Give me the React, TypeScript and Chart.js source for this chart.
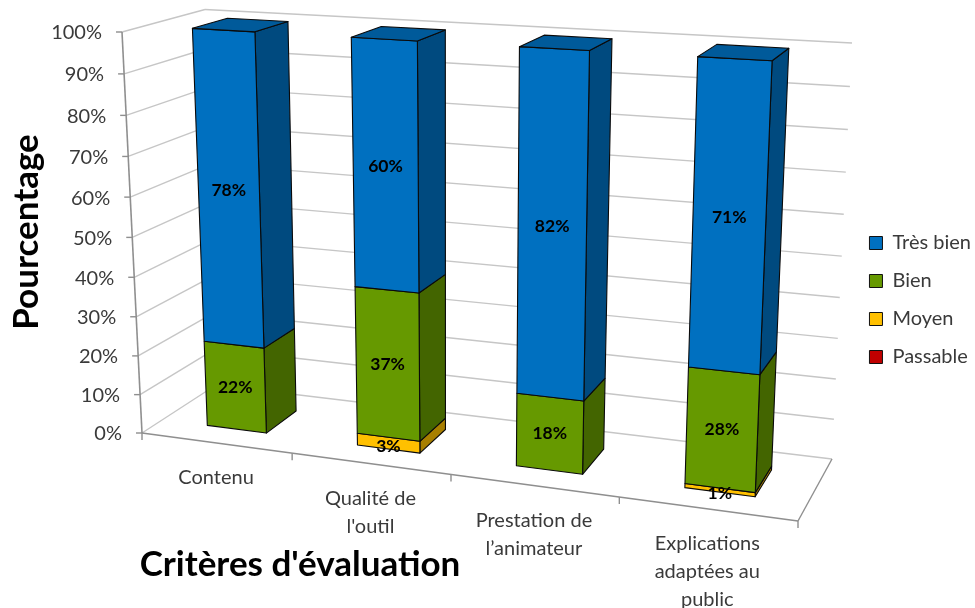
import React, { useEffect, useRef } from "react";
import { Chart, registerables } from "chart.js";

Chart.register(...registerables);

const categories = [["Contenu"], ["Qualité de", "l'outil"], ["Prestation de", "l’animateur"], ["Explications", "adaptées au", "public"]];
const passable = [0, 0, 0, 0];
const moyen = [0, 3, 0, 1];
const bien = [22, 37, 18, 28];
const tresBien = [78, 60, 82, 71];
const yTitle = "Pourcentage";
const xTitle = "Critères d'évaluation";

const FONT = "Lato, 'Open Sans', sans-serif";
const TEXT = "#3a3a3a";
const GRID = "#c6c6c6";
const AXIS = "#8f8f8f";

// 3D box of the plot: screen position of its eight corners [front/back][top/bottom][left/right]
type P = [number, number];
const FTL: P = [122, 32], FTR: P = [818, 72], FBL: P = [142, 433], FBR: P = [798, 521];
const BTL: P = [205, 9.5], BTR: P = [852, 43], BBL: P = [216, 385], BBR: P = [832, 459];
const PERSP_U = 1.123, PERSP_V = 1.05;
const W_FRONT = 0.28, W_BACK = 0.72;
const BAR_SHIFT = 0.002;

const persp = (a: number, r: number) => a / (a + (1 - a) * r);
const lerp = (a: P, b: P, t: number): P => [a[0] + (b[0] - a[0]) * t, a[1] + (b[1] - a[1]) * t];

function project(u: number, v: number, w: number): P {
  const tu = persp(u, PERSP_U), tv = persp(v, PERSP_V);
  const front = lerp(lerp(FBL, FBR, tu), lerp(FTL, FTR, tu), tv);
  const back = lerp(lerp(BBL, BBR, tu), lerp(BTL, BTR, tu), tv);
  return lerp(front, back, w);
}

function shade(hex: string, f: number) {
  const n = parseInt(hex.slice(1), 16);
  const c = [(n >> 16) & 255, (n >> 8) & 255, n & 255].map((x) => Math.round(x * f));
  return `rgb(${c[0]},${c[1]},${c[2]})`;
}

function line(ctx: CanvasRenderingContext2D, a: P, b: P, color: string, width: number) {
  ctx.strokeStyle = color;
  ctx.lineWidth = width;
  ctx.beginPath();
  ctx.moveTo(a[0], a[1]);
  ctx.lineTo(b[0], b[1]);
  ctx.stroke();
}

function poly(ctx: CanvasRenderingContext2D, pts: P[], fill: string) {
  ctx.fillStyle = fill;
  ctx.strokeStyle = "#0a0a0a";
  ctx.lineWidth = 1.1;
  ctx.lineJoin = "round";
  ctx.beginPath();
  pts.forEach((p, i) => (i ? ctx.lineTo(p[0], p[1]) : ctx.moveTo(p[0], p[1])));
  ctx.closePath();
  ctx.fill();
  ctx.stroke();
}

const box3d = {
  id: "box3d",
  beforeDatasetsDraw(chart: any) {
    const ctx: CanvasRenderingContext2D = chart.ctx;
    const area = chart.chartArea;
    const normU = (x: number) => (x - area.left) / area.width;
    const normV = (y: number) => (area.bottom - y) / area.height;
    const yScale = chart.scales.y;
    const xScale = chart.scales.x;
    ctx.save();

    // walls
    const ticks = yScale.ticks as { value: number }[];
    ticks.forEach((t) => {
      const v = normV(yScale.getPixelForValue(t.value));
      line(ctx, project(0, v, 0), project(0, v, 1), GRID, 1.4);
      line(ctx, project(0, v, 1), project(1, v, 1), GRID, 1.4);
    });
    // floor
    line(ctx, project(1, 0, 1), project(1, 0, 0), AXIS, 1.4);
    line(ctx, project(0, 0, 0), project(1, 0, 0), AXIS, 1.6);
    line(ctx, project(0, 0, 0), project(0, 1, 0), AXIS, 1.6);
    // axis tick marks
    ticks.forEach((t) => {
      const p = project(0, normV(yScale.getPixelForValue(t.value)), 0);
      line(ctx, [p[0] - 6, p[1]], p, AXIS, 1.4);
    });
    categories.concat([[]]).forEach((_, i) => {
      const p = project(i / categories.length, 0, 0);
      line(ctx, p, [p[0], p[1] + 7], AXIS, 1.4);
    });

    // bars, left to right, bottom to top
    const n = chart.data.datasets.length;
    categories.forEach((_, i) => {
      let topmost = -1;
      for (let d = 0; d < n; d++) if (chart.data.datasets[d].data[i] > 0) topmost = d;
      for (let d = 0; d < n; d++) {
        const ds = chart.data.datasets[d];
        if (!(ds.data[i] > 0)) continue;
        const el = chart.getDatasetMeta(d).data[i] as any;
        const u0 = normU(el.x - el.width / 2) + BAR_SHIFT, u1 = normU(el.x + el.width / 2) + BAR_SHIFT;
        const v0 = normV(el.base), v1 = normV(el.y);
        const col = ds.backgroundColor as string;
        poly(ctx, [project(u1, v0, W_FRONT), project(u1, v0, W_BACK), project(u1, v1, W_BACK), project(u1, v1, W_FRONT)], shade(col, 0.66));
        poly(ctx, [project(u0, v0, W_FRONT), project(u1, v0, W_FRONT), project(u1, v1, W_FRONT), project(u0, v1, W_FRONT)], col);
        if (d === topmost) {
          poly(ctx, [project(u0, v1, W_FRONT), project(u1, v1, W_FRONT), project(u1, v1, W_BACK), project(u0, v1, W_BACK)], shade(col, 0.8));
        }
      }
    });

    // data labels
    ctx.textAlign = "center";
    ctx.textBaseline = "middle";
    ctx.fillStyle = "#000";
    ctx.font = `bold 17.5px ${FONT}`;
    for (let d = 0; d < n; d++) {
      const ds = chart.data.datasets[d];
      categories.forEach((_, i) => {
        if (!(ds.data[i] > 0)) return;
        const el = chart.getDatasetMeta(d).data[i] as any;
        const p = project(normU(el.x) + BAR_SHIFT, (normV(el.base) + normV(el.y)) / 2, W_FRONT);
        ctx.fillText(`${ds.data[i]}%`, p[0], p[1] + (ds.data[i] < 5 ? 3 : 0));
      });
    }

    // y tick labels
    ctx.fillStyle = TEXT;
    ctx.font = `20px ${FONT}`;
    ctx.textAlign = "right";
    ticks.forEach((t) => {
      const p = project(0, normV(yScale.getPixelForValue(t.value)), 0);
      ctx.fillText(`${t.value}%`, p[0] - 20, p[1] + 1);
    });

    // category labels
    ctx.font = `20px ${FONT}`;
    ctx.textAlign = "center";
    categories.forEach((_, i) => {
      const p = project(normU(xScale.getPixelForValue(i)), 0, 0);
      categories[i].forEach((s, k) => ctx.fillText(s, p[0], p[1] + 35 + k * 28));
    });

    // axis titles
    ctx.fillStyle = "#000";
    ctx.font = `bold 35px ${FONT}`;
    ctx.fillText(xTitle, 300, 565);
    ctx.translate(27, 232);
    ctx.rotate(-Math.PI / 2);
    ctx.fillText(yTitle, 0, 0);
    ctx.restore();
    return false;
  },
};

export default function App() {
  const ref = useRef<HTMLCanvasElement>(null);
  useEffect(() => {
    const chart = new Chart(ref.current!, {
      type: "bar",
      plugins: [box3d],
      data: {
        labels: categories,
        datasets: [
          { label: "Passable", data: passable, backgroundColor: "#C00000", borderColor: "#111", borderWidth: 1 },
          { label: "Moyen", data: moyen, backgroundColor: "#FFC000", borderColor: "#111", borderWidth: 1 },
          { label: "Bien", data: bien, backgroundColor: "#669900", borderColor: "#111", borderWidth: 1 },
          { label: "Très bien", data: tresBien, backgroundColor: "#0070C0", borderColor: "#111", borderWidth: 1 },
        ],
      },
      options: {
        responsive: false,
        animation: false,
        layout: { padding: { top: 32, bottom: 40, left: 0, right: -6 } },
        datasets: { bar: { barPercentage: 0.4, categoryPercentage: 1 } },
        scales: {
          x: { stacked: true, display: false },
          y: { stacked: true, display: false, min: 0, max: 100, ticks: { stepSize: 10 } },
        },
        plugins: {
          tooltip: { enabled: false },
          legend: {
            position: "right",
            reverse: true,
            labels: { boxWidth: 13, boxHeight: 13, padding: 18, color: TEXT, font: { family: FONT, size: 20 } },
          },
        },
      } as any,
    });
    return () => chart.destroy();
  }, []);
  return (
    <div style={{ position: "absolute", left: 0, top: 0, width: 975, height: 608, background: "#fff" }}>
      <canvas ref={ref} width={975} height={608} style={{ display: "block" }} />
    </div>
  );
}
